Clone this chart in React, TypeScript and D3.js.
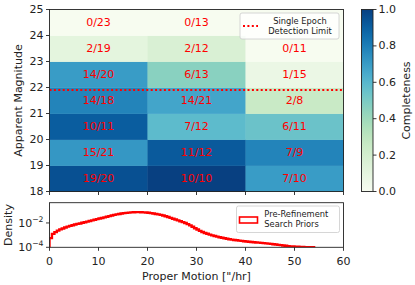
import React from "react";
import * as d3 from "d3";

// ---- data ----
const pmBins = [0, 20, 40, 60]; // proper motion bin edges ["/hr]
const magBins = [18, 19, 20, 21, 22, 23, 24, 25];
// found / total per cell, rows from mag 18 upward, columns by proper motion bin
const found: (number | null)[][] = [
  [19, 10, 7],
  [15, 11, 7],
  [10, 7, 6],
  [14, 14, 2],
  [14, 6, 1],
  [2, 2, 0],
  [0, 0, null],
];
const total: (number | null)[][] = [
  [20, 10, 10],
  [21, 12, 9],
  [11, 12, 11],
  [18, 21, 8],
  [20, 13, 15],
  [19, 12, 11],
  [23, 13, null],
];
const detectionLimit = 21.9;
const magTicks = [18, 19, 20, 21, 22, 23, 24, 25];
const pmTicks = [0, 10, 20, 30, 40, 50, 60];
const cbarTicks = [0, 0.2, 0.4, 0.6, 0.8, 1.0];
// prior density histogram (log10 of density), 0.5 "/hr bins starting at 0
const priorLogDensity = [
  -3.25, -2.9, -2.75, -2.63, -2.53, -2.45, -2.37, -2.3, -2.24, -2.19,
  -2.13, -2.08, -2.04, -1.98, -1.94, -1.89, -1.84, -1.79, -1.74, -1.69,
  -1.64, -1.59, -1.54, -1.49, -1.44, -1.39, -1.34, -1.3, -1.26, -1.22,
  -1.19, -1.17, -1.15, -1.13, -1.12, -1.11, -1.11, -1.12, -1.13, -1.14,
  -1.16, -1.19, -1.22, -1.26, -1.3, -1.34, -1.39, -1.45, -1.51, -1.58,
  -1.65, -1.72, -1.79, -1.86, -1.93, -2.01, -2.1, -2.2, -2.31, -2.43,
  -2.54, -2.65, -2.74, -2.82, -2.89, -2.96, -3.02, -3.07, -3.12, -3.17,
  -3.22, -3.26, -3.3, -3.34, -3.37, -3.4, -3.42, -3.45, -3.47, -3.5,
  -3.52, -3.54, -3.56, -3.58, -3.6, -3.62, -3.64, -3.66, -3.68, -3.7,
  -3.72, -3.75, -3.77, -3.8, -3.82, -3.85, -3.87, -3.9, -3.92, -3.94,
  -3.95, -3.96, -3.97, -3.98, -3.99, -3.995, -4.0, -4.0,
];
const priorBinWidth = 0.5;
const densityTicks = [1e-4, 1e-2];
const densityExp = ["−4", "−2"];

// ---- layout ----
const L = 49.5, R = 343.5;
const T1 = 9.5, B1 = 191.5;
const T2 = 202.7, B2 = 247.3;
const CBL = 361.5, CBR = 373;
const FONT = "DejaVu Sans, sans-serif";
const AX = "#222";

export default function App() {
  const x = d3.scaleLinear().domain([0, 60]).range([L, R]);
  const y = d3.scaleLinear().domain([18, 25]).range([B1, T1]);
  const yd = d3.scaleLog().domain([1e-4, 0.46]).range([B2, T2]);
  const cb = d3.scaleLinear().domain([0, 1]).range([B1, T1]);
  const color = d3.interpolateGnBu;

  const cells: JSX.Element[] = [];
  const labels: JSX.Element[] = [];
  magBins.slice(0, -1).forEach((m0, i) => {
    const m1 = magBins[i + 1];
    pmBins.slice(0, -1).forEach((p0, j) => {
      const p1 = pmBins[j + 1];
      const f = found[i][j];
      const t = total[i][j];
      const v = f != null && t ? f / t : 0;
      cells.push(
        <rect key={`c${i}-${j}`} x={x(p0)} y={y(m1)} width={x(p1) - x(p0) + 0.4} height={y(m0) - y(m1) + 0.4}
          fill={color(v)} />
      );
      if (f != null && t != null) {
        labels.push(
          <text key={`t${i}-${j}`} x={(x(p0) + x(p1)) / 2} y={(y(m0) + y(m1)) / 2} fill="red"
            fontSize={11} textAnchor="middle" dominantBaseline="central">{`${f}/${t}`}</text>
        );
      }
    });
  });

  // step path for histogram
  const pts: [number, number][] = [];
  pts.push([x(0), B2 + 5]);
  priorLogDensity.forEach((lv, k) => {
    const d = Math.pow(10, lv);
    pts.push([x(k * priorBinWidth), yd(d)]);
    pts.push([x((k + 1) * priorBinWidth), yd(d)]);
  });
  pts.push([x(priorLogDensity.length * priorBinWidth), B2 + 5]);
  const stepPath = d3.line()(pts) as string;

  const stops = d3.range(0, 1.0001, 0.05);

  return (
    <svg width={415} height={285} style={{ position: "absolute", left: 0, top: 0, background: "#fff" }}
      fontFamily={FONT}>
      <defs>
        <clipPath id="clip2"><rect x={L} y={T2} width={R - L} height={B2 - T2} /></clipPath>
        <linearGradient id="cbg" x1="0" y1="1" x2="0" y2="0">
          {stops.map((s) => <stop key={s} offset={s} stopColor={color(s)} />)}
        </linearGradient>
      </defs>

      {/* top heatmap */}
      {cells}
      {labels}
      <line x1={L} x2={R} y1={y(detectionLimit)} y2={y(detectionLimit)} stroke="red" strokeWidth={2}
        strokeDasharray="2,2.4" />
      {/* legend 1 */}
      <rect x={240} y={13} width={99} height={26} rx={2} fill="#fff" fillOpacity={0.8} stroke="#ccc" strokeWidth={0.8} />
      <line x1={243} x2={258} y1={26} y2={26} stroke="red" strokeWidth={2} strokeDasharray="2,2.4" />
      <text x={300} y={21} fontSize={8.3} fill={AX} textAnchor="middle" dominantBaseline="central">Single Epoch</text>
      <text x={300} y={30.7} fontSize={8.3} fill={AX} textAnchor="middle" dominantBaseline="central">Detection Limit</text>
      <rect x={L} y={T1} width={R - L} height={B1 - T1} fill="none" stroke={AX} strokeWidth={0.9} />
      {magTicks.map((m) => (
        <g key={`ym${m}`}>
          <line x1={L - 3.5} x2={L} y1={y(m)} y2={y(m)} stroke={AX} strokeWidth={0.9} />
          <text x={L - 6} y={y(m)} fontSize={11} fill={AX} textAnchor="end" dominantBaseline="central">{m}</text>
        </g>
      ))}
      {pmTicks.map((p) => (
        <line key={`xt1${p}`} x1={x(p)} x2={x(p)} y1={B1} y2={B1 + 3.5} stroke={AX} strokeWidth={0.9} />
      ))}
      <text transform={`translate(18.5,${(T1 + B1) / 2}) rotate(-90)`} fontSize={11} fill={AX}
        textAnchor="middle" dominantBaseline="central">Apparent Magnitude</text>

      {/* colorbar */}
      <rect x={CBL} y={T1} width={CBR - CBL} height={B1 - T1} fill="url(#cbg)" stroke={AX} strokeWidth={0.9} />
      {cbarTicks.map((c) => (
        <g key={`cb${c}`}>
          <line x1={CBR} x2={CBR + 3.5} y1={cb(c)} y2={cb(c)} stroke={AX} strokeWidth={0.9} />
          <text x={CBR + 5.5} y={cb(c)} fontSize={11} fill={AX} dominantBaseline="central">{c.toFixed(1)}</text>
        </g>
      ))}
      <text transform={`translate(406.5,${(T1 + B1) / 2}) rotate(-90)`} fontSize={11} fill={AX}
        textAnchor="middle" dominantBaseline="central">Completeness</text>

      {/* bottom density panel */}
      <path d={stepPath} fill="none" stroke="red" strokeWidth={2.4} clipPath="url(#clip2)" />
      <rect x={236.5} y={206} width={103} height={26.5} rx={2} fill="#fff" fillOpacity={0.8} stroke="#ccc" strokeWidth={0.8} />
      <rect x={239.5} y={217} width={18} height={6} fill="#fff" stroke="red" strokeWidth={1.6} />
      <text x={264.3} y={214} fontSize={8.3} fill={AX} dominantBaseline="central">Pre-Refinement</text>
      <text x={264.3} y={223.7} fontSize={8.3} fill={AX} dominantBaseline="central">Search Priors</text>
      <rect x={L} y={T2} width={R - L} height={B2 - T2} fill="none" stroke={AX} strokeWidth={0.9} />
      {densityTicks.map((d, k) => (
        <g key={`yd${k}`}>
          <line x1={L - 3.5} x2={L} y1={yd(d)} y2={yd(d)} stroke={AX} strokeWidth={0.9} />
          <text x={L - 6} y={yd(d) + 4} fontSize={11} fill={AX} textAnchor="end">
            10<tspan fontSize={7.7} dy={-5}>{densityExp[k]}</tspan>
          </text>
        </g>
      ))}
      <text transform={`translate(8,${(T2 + B2) / 2}) rotate(-90)`} fontSize={11} fill={AX}
        textAnchor="middle" dominantBaseline="central">Density</text>
      {pmTicks.map((p) => (
        <g key={`xt2${p}`}>
          <line x1={x(p)} x2={x(p)} y1={B2} y2={B2 + 3.5} stroke={AX} strokeWidth={0.9} />
          <text x={x(p)} y={B2 + 14} fontSize={11} fill={AX} textAnchor="middle" dominantBaseline="central">{p}</text>
        </g>
      ))}
      <text x={(L + R) / 2} y={276.5} fontSize={11} fill={AX} textAnchor="middle" dominantBaseline="central">
        Proper Motion ["/hr]
      </text>
    </svg>
  );
}
